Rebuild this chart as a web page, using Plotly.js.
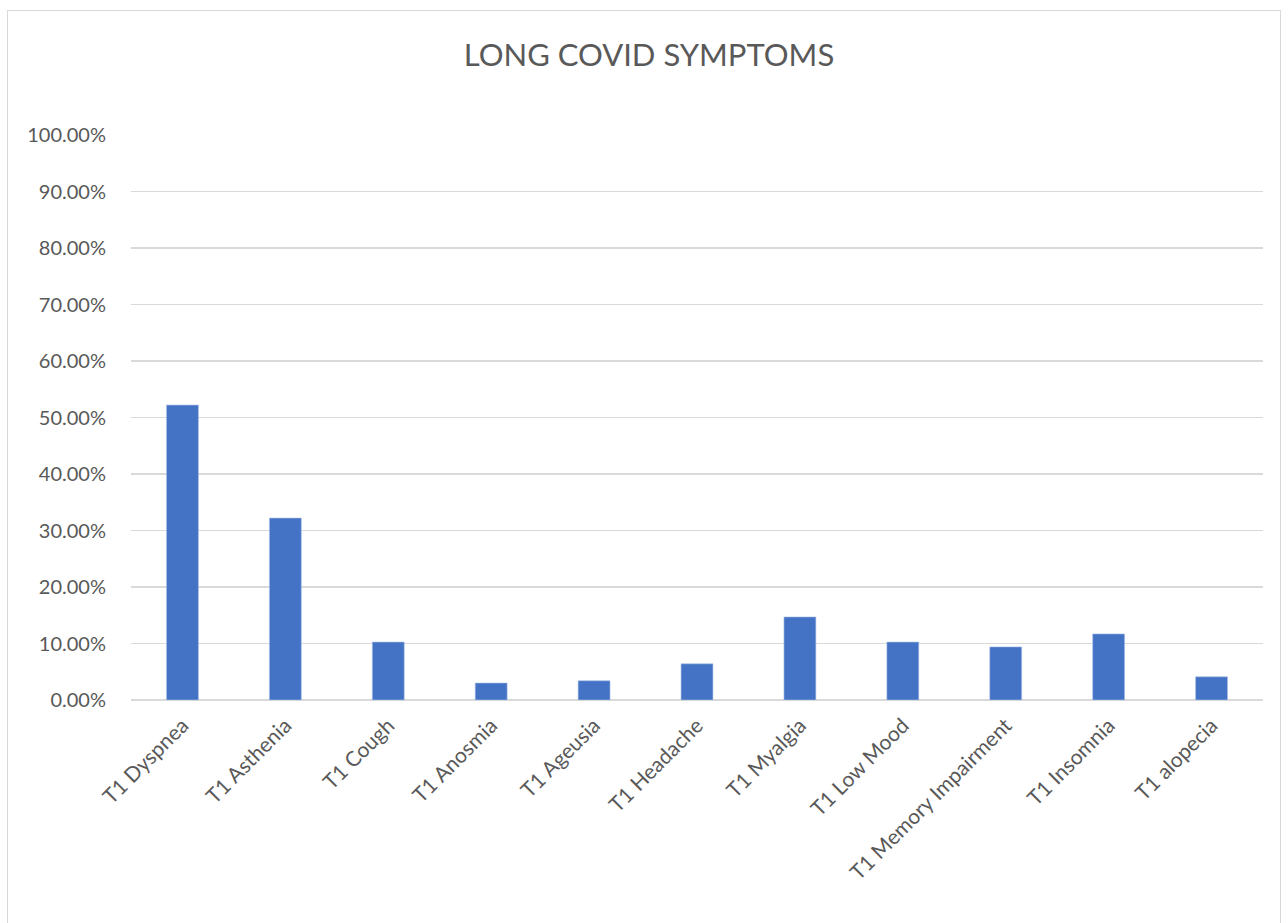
<!DOCTYPE html>
<html>
<head>
<meta charset="utf-8">
<script src="https://cdn.plot.ly/plotly-3.0.1.min.js"></script>
<style>
  html, body { margin: 0; padding: 0; background: #fff; }
  #wrap { position: relative; width: 1288px; height: 923px; }
  #chart { position: absolute; left: 0; top: 0; width: 1288px; height: 923px; }
  #frame { position: absolute; left: 7px; top: 10px; width: 1272px; height: 920px; border: 1px solid #d9d9d9; pointer-events: none; }
</style>
</head>
<body>
<div id="wrap">
  <div id="chart"></div>
  <div id="frame"></div>
</div>
<script>
const categories = ["T1 Dyspnea", "T1 Asthenia", "T1 Cough", "T1 Anosmia", "T1 Ageusia", "T1 Headache", "T1 Myalgia", "T1 Low Mood", "T1 Memory Impairment", "T1 Insomnia", "T1 alopecia"];
const values = [0.522, 0.322, 0.1025, 0.030, 0.034, 0.064, 0.147, 0.1025, 0.094, 0.117, 0.041];
const yTickVals = [0, 0.1, 0.2, 0.3, 0.4, 0.5, 0.6, 0.7, 0.8, 0.9, 1.0];

const fontFam = "Lato, 'Open Sans', sans-serif";
const trace = {
  type: 'bar',
  x: categories,
  y: values,
  marker: { color: '#4472c4', line: { color: '#a9c0e8', width: 0.6 } },
  width: 0.31,
  hoverinfo: 'x+y'
};
const layout = {
  width: 1288, height: 923,
  margin: { l: 131, r: 25, t: 135, b: 223 },
  paper_bgcolor: 'rgba(0,0,0,0)', plot_bgcolor: '#fff',
  font: { family: fontFam, color: '#595959', size: 20 },
  title: { text: 'LONG COVID SYMPTOMS', x: 649/1288, xref: 'container', xanchor: 'center', y: 1 - 55/923, yref: 'container', yanchor: 'middle', font: { family: fontFam, size: 31, color: '#595959' } },
  showlegend: false,
  xaxis: {
    type: 'category', tickangle: -45, showgrid: false, zeroline: false,
    showline: false, ticks: 'outside', ticklen: 4, tickcolor: 'rgba(0,0,0,0)',
    tickfont: { size: 21, color: '#595959' }
  },
  yaxis: {
    range: [0, 1.0], tickvals: yTickVals, tickformat: '.2%',
    showgrid: true, gridcolor: '#d9d9d9', gridwidth: 1.4, zeroline: true, zerolinecolor: '#d9d9d9', zerolinewidth: 1.4,
    showline: false, ticks: 'outside', ticklen: 20, tickcolor: 'rgba(0,0,0,0)',
    tickfont: { size: 20, color: '#595959' }
  }
};
Plotly.newPlot('chart', [trace], layout, { displayModeBar: false, staticPlot: true });
</script>
</body>
</html>
